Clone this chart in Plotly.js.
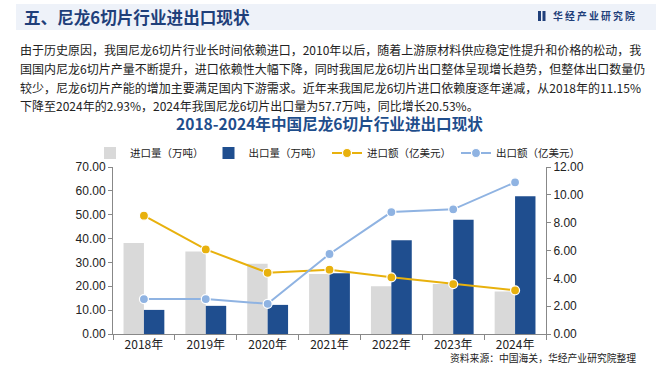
<!DOCTYPE html>
<html>
<head>
<meta charset="utf-8">
<script src="https://cdn.plot.ly/plotly-3.0.1.min.js"></script>
<style>
html,body{margin:0;padding:0;background:#fff;}
#chart{width:660px;height:367px;}
</style>
</head>
<body>
<div id="chart"></div>
<script>
// ---- data ----
const years = ["2018年","2019年","2020年","2021年","2022年","2023年","2024年"];
const importVolume = [38.1, 34.6, 29.4, 25.1, 20.0, 21.0, 17.8];   // 进口量（万吨）
const exportVolume = [10.1, 11.8, 12.2, 25.5, 39.3, 47.9, 57.7];   // 出口量（万吨）
const importValue  = [8.50, 6.08, 4.40, 4.62, 4.07, 3.59, 3.14];   // 进口额（亿美元）
const exportValue  = [2.51, 2.51, 2.17, 5.75, 8.76, 8.96, 10.90];  // 出口额（亿美元）
const seriesNames = ["进口量（万吨）","出口量（万吨）","进口额（亿美元）","出口额（亿美元）"];
const leftTicks = [0,10,20,30,40,50,60,70];
const rightTicks = [0,2,4,6,8,10,12];

const headerTitle = "五、尼龙6切片行业进出口现状";
const brand = "华 经 产 业 研 究 院";
const paragraph = [
  "由于历史原因，我国尼龙6切片行业长时间依赖进口，2010年以后，随着上游原材料供应稳定性提升和价格的松动，我",
  "国国内尼龙6切片产量不断提升，进口依赖性大幅下降，同时我国尼龙6切片出口整体呈现增长趋势，但整体出口数量仍",
  "较少，尼龙6切片产能的增加主要满足国内下游需求。近年来我国尼龙6切片进口依赖度逐年递减，从2018年的11.15%",
  "下降至2024年的2.93%，2024年我国尼龙6切片出口量为57.7万吨，同比增长20.53%。"
];
const chartTitle = "2018-2024年中国尼龙6切片行业进出口现状";
const sourceText = "资料来源：中国海关，华经产业研究院整理";

// ---- layout geometry (pixels) ----
const W = 660, H = 367;
const M = {l:113, r:114, t:167, b:33};
const PW = W - M.l - M.r, PH = H - M.t - M.b;
const px = x => (x - M.l) / PW;
const py = y => (H - M.b - y) / PH;

const FONT = "Liberation Sans, Arial, Noto Sans CJK SC, sans-serif";
const CJK = "Noto Sans CJK SC, Liberation Sans, sans-serif";

const traces = [
  {type:"bar", name:seriesNames[0], x:years, y:importVolume, marker:{color:"#d9d9d9"}, yaxis:"y"},
  {type:"bar", name:seriesNames[1], x:years, y:exportVolume, marker:{color:"#1f4e8f"}, yaxis:"y"},
  {type:"scatter", mode:"lines+markers", name:seriesNames[2], x:years, y:importValue, yaxis:"y2",
   line:{color:"#e8b10d", width:2}, marker:{color:"#e8b10d", size:9, line:{color:"#ffffff", width:1.2}}},
  {type:"scatter", mode:"lines+markers", name:seriesNames[3], x:years, y:exportValue, yaxis:"y2",
   line:{color:"#8fb3e2", width:2}, marker:{color:"#8fb3e2", size:9, line:{color:"#ffffff", width:1.2}}}
];

const annotations = [
  {text:headerTitle, x:px(22), y:py(17), xref:"paper", yref:"paper", xanchor:"left", yanchor:"middle",
   showarrow:false, font:{family:CJK, size:16.6, color:"#1f3f7a", weight:"bold"}},
  {text:brand, x:px(551), y:py(16), xref:"paper", yref:"paper", xanchor:"left", yanchor:"middle",
   showarrow:false, font:{family:CJK, size:9.8, color:"#1f3f7a", weight:"bold"}},
  {text:chartTitle, x:px(329), y:py(123), xref:"paper", yref:"paper", xanchor:"center", yanchor:"middle",
   showarrow:false, font:{family:CJK, size:15.6, color:"#1f4e8c", weight:"bold"}},
  {text:sourceText, x:px(638), y:py(358), xref:"paper", yref:"paper", xanchor:"right", yanchor:"middle",
   showarrow:false, font:{family:CJK, size:9.8, color:"#222"}}
];
const lineY = [49, 68, 87, 105];
paragraph.forEach((t,i)=>{
  annotations.push({text:t, x:px(18), y:py(lineY[i]), xref:"paper", yref:"paper", xanchor:"left", yanchor:"middle",
    showarrow:false, font:{family:CJK, size:12, color:"#222"}});
});

const shapes = [
  {type:"rect", xref:"paper", yref:"paper", x0:px(16), x1:px(656), y0:py(4), y1:py(30),
   fillcolor:"#eef2f9", line:{width:0}, layer:"below"},
  {type:"rect", xref:"paper", yref:"paper", x0:px(538), x1:px(541), y0:py(11), y1:py(21),
   fillcolor:"#1f3f7a", line:{width:0}},
  {type:"rect", xref:"paper", yref:"paper", x0:px(542.5), x1:px(545.5), y0:py(11), y1:py(21),
   fillcolor:"#1f3f7a", line:{width:0}}
];

const layout = {
  width:W, height:H,
  margin:{l:M.l, r:M.r, t:M.t, b:M.b, pad:0},
  paper_bgcolor:"#ffffff", plot_bgcolor:"#ffffff",
  font:{family:FONT, size:12, color:"#222"},
  barmode:"group", bargap:0.34, bargroupgap:0,
  showlegend:true,
  legend:{orientation:"h", x:px(90), y:py(153), xanchor:"left", yanchor:"middle",
          font:{family:CJK, size:10.5, color:"#222"}, itemwidth:30, tracegroupgap:0, bgcolor:"rgba(0,0,0,0)"},
  xaxis:{type:"category", showgrid:false, showline:true, linecolor:"#888", linewidth:1,
         ticks:"outside", tickson:"boundaries", ticklen:5, tickcolor:"#888",
         tickfont:{family:CJK, size:12, color:"#222"}, zeroline:false, fixedrange:true},
  yaxis:{range:[0,70], tickvals:leftTicks, tickformat:".2f", showgrid:false, zeroline:false,
         showline:true, linecolor:"#888", linewidth:1, ticks:"outside", ticklen:4, tickcolor:"#888",
         tickfont:{family:FONT, size:12, color:"#222"}},
  yaxis2:{range:[0,12], tickvals:rightTicks, tickformat:".2f", overlaying:"y", side:"right",
          showgrid:false, zeroline:false, showline:true, linecolor:"#888", linewidth:1,
          ticks:"outside", ticklen:4, tickcolor:"#888",
          tickfont:{family:FONT, size:12, color:"#222"}},
  annotations:annotations,
  shapes:shapes
};

Plotly.newPlot("chart", traces, layout, {displayModeBar:false, staticPlot:true});
</script>
</body>
</html>
